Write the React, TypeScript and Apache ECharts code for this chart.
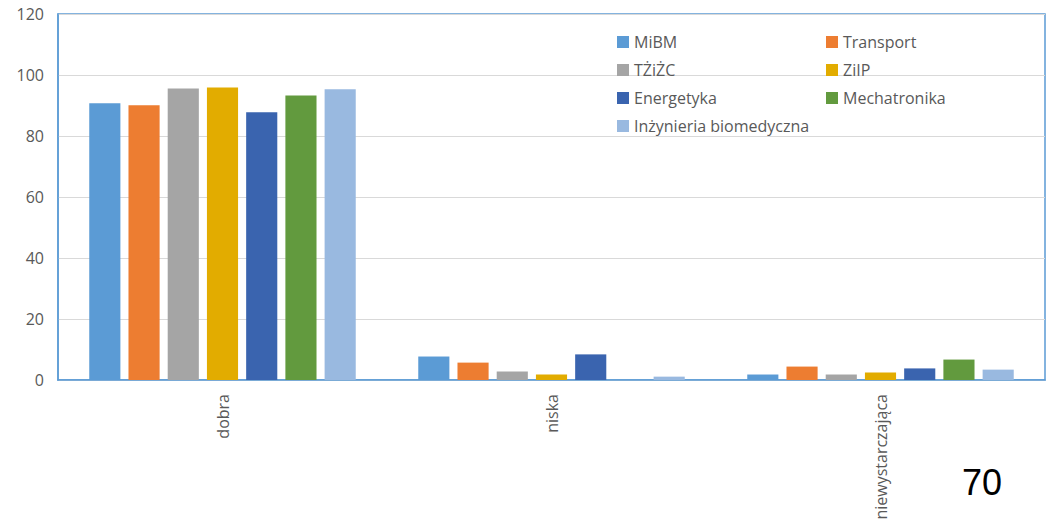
import React, { useEffect, useRef } from "react";
import * as echarts from "echarts";

const categories = ["dobra", "niska", "niewystarczająca"];
const seriesNames = [
  "MiBM",
  "Transport",
  "TŻiŻC",
  "ZiIP",
  "Energetyka",
  "Mechatronika",
  "Inżynieria biomedyczna",
];
const colors = ["#5B9BD5", "#ED7D31", "#A5A5A5", "#E2AC00", "#3A64AF", "#629A3E", "#99B9E0"];
const MiBM = [90.7, 7.7, 1.8];
const Transport = [90.1, 5.7, 4.4];
const TZiZC = [95.6, 2.8, 1.8];
const ZiIP = [95.9, 1.8, 2.5];
const Energetyka = [87.8, 8.4, 3.8];
const Mechatronika = [93.3, 0, 6.7];
const Inzynieria = [95.3, 1.1, 3.4];
const seriesValues = [MiBM, Transport, TZiZC, ZiIP, Energetyka, Mechatronika, Inzynieria];
const yTicks = [0, 20, 40, 60, 80, 100, 120];
const pageNumber = "70";

const FONT = "'Open Sans', 'Noto Sans', sans-serif";

export default function App() {
  const ref = useRef<HTMLDivElement>(null);
  useEffect(() => {
    document.body.style.margin = "0";
    if (!ref.current) return;
    const chart = echarts.init(ref.current, null, { renderer: "svg" });
    const legendText = { color: "#595959", fontSize: 16, fontFamily: FONT, lineHeight: 20 };
    chart.setOption({
      animation: false,
      backgroundColor: "#ffffff",
      grid: {
        left: 58,
        right: 5,
        top: 14,
        bottom: 145,
        show: true,
        borderColor: "#5B9BD5",
        borderWidth: 1.5,
      },
      legend: [
        {
          orient: "vertical",
          left: 612,
          top: 27,
          itemWidth: 12,
          itemHeight: 12,
          itemGap: 8,
          icon: "rect",
          textStyle: legendText,
          data: [seriesNames[0], seriesNames[2], seriesNames[4], seriesNames[6]],
        },
        {
          orient: "vertical",
          left: 821,
          top: 27,
          itemWidth: 12,
          itemHeight: 12,
          itemGap: 8,
          icon: "rect",
          textStyle: legendText,
          data: [seriesNames[1], seriesNames[3], seriesNames[5]],
        },
      ],
      xAxis: {
        type: "category",
        data: categories,
        axisTick: { show: false },
        axisLine: { lineStyle: { color: "#5B9BD5", width: 1.5 } },
        axisLabel: {
          rotate: 90,
          margin: 14,
          color: "#595959",
          fontSize: 16,
          fontFamily: FONT,
        },
      },
      yAxis: {
        type: "value",
        min: yTicks[0],
        max: yTicks[yTicks.length - 1],
        interval: yTicks[1] - yTicks[0],
        axisLine: { show: true, lineStyle: { color: "#5B9BD5", width: 1.5 } },
        axisLabel: { color: "#595959", fontSize: 16, fontFamily: FONT, margin: 14 },
        splitLine: { lineStyle: { color: "#D9D9D9", width: 1 } },
      },
      series: seriesNames.map((name, i) => ({
        name,
        type: "bar",
        data: seriesValues[i],
        itemStyle: { color: colors[i] },
        barGap: "26%",
        barCategoryGap: "19%",
      })),
      graphic: [
        {
          type: "text",
          left: 962,
          top: 464,
          style: {
            text: pageNumber,
            fill: "#000000",
            fontSize: 36,
            fontFamily: "'Liberation Sans', Arial, sans-serif",
          },
        },
      ],
    });
    return () => chart.dispose();
  }, []);
  return <div ref={ref} style={{ width: 1050, height: 525 }} />;
}
